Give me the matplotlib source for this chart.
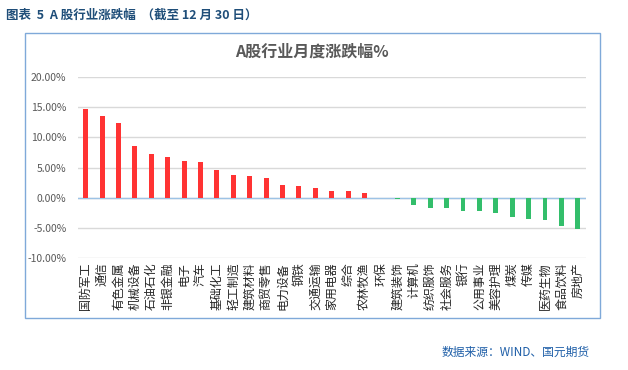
import matplotlib
matplotlib.use("Agg")
import matplotlib.pyplot as plt
from matplotlib.patches import Rectangle
from matplotlib.ticker import FuncFormatter

plt.rcParams['font.family'] = ['Noto Sans CJK SC', 'DejaVu Sans']

categories = ["国防军工", "通信", "有色金属", "机械设备", "石油石化", "非银金融", "电子", "汽车",
              "基础化工", "轻工制造", "建筑材料", "商贸零售", "电力设备", "钢铁", "交通运输",
              "家用电器", "综合", "农林牧渔", "环保", "建筑装饰", "计算机", "纺织服饰", "社会服务",
              "银行", "公用事业", "美容护理", "煤炭", "传媒", "医药生物", "食品饮料", "房地产"]
values = [14.66, 13.5, 12.34, 8.54, 7.22, 6.72, 6.06, 5.9,
          4.57, 3.75, 3.58, 3.25, 2.09, 1.93, 1.65,
          1.16, 1.16, 0.83, -0.1, -0.25, -1.16, -1.65, -1.65,
          -2.15, -2.15, -2.48, -3.14, -3.47, -3.64, -4.63, -5.12]
yticks = [-10, -5, 0, 5, 10, 15, 20]

W, H = 628, 370
fig = plt.figure(figsize=(W/100, H/100), dpi=100)

# outer frame
fig.add_artist(Rectangle((25/W, 1-318/H), (600-25)/W, (318-33)/H, transform=fig.transFigure,
                         fill=False, edgecolor='#7FA9D9', linewidth=1.0))

ax = fig.add_axes([77.5/W, 1-258/H, (586-77.5)/W, (258-77)/H])
colors = ['#FF3333' if v >= 0 else '#33BE6B' for v in values]
x = range(len(categories))
ax.bar(x, values, width=0.3, color=colors, zorder=3)
ax.set_xlim(-0.5, len(categories)-0.5)
ax.set_ylim(-10, 20)
ax.set_yticks(yticks)
ax.yaxis.set_major_formatter(FuncFormatter(lambda v, p: f"{v:.2f}%"))
ax.tick_params(axis='y', length=0, labelsize=7.5, labelcolor='#595959', pad=8)
ax.grid(axis='y', color='#D9D9D9', linewidth=1.0, zorder=0)
ax.axhline(0, color='#9DC3E6', linewidth=1.0, zorder=2)
for s in ax.spines.values():
    s.set_visible(False)
ax.set_xticks(list(x))
ax.set_xticklabels(categories, rotation=90, fontsize=8.6, color='#262626')
ax.tick_params(axis='x', length=0, pad=3)
for lbl in ax.get_xticklabels():
    lbl.set_verticalalignment('top')

fig.text(312/W, 1-52/H, "A股行业月度涨跌幅%", ha='center', va='center', fontsize=11.5,
         fontweight='bold', color='#595959')
fig.text(6/W, 1-15/H, "图表  5  A 股行业涨跌幅  （截至 12 月 30 日）", ha='left', va='center',
         fontsize=9, fontweight='bold', color='#1F4E79')
fig.text(590/W, 1-352/H, "数据来源：WIND、国元期货", ha='right', va='center',
         fontsize=8.5, color='#1F5FA8')

fig.savefig("out.png", dpi=100)
